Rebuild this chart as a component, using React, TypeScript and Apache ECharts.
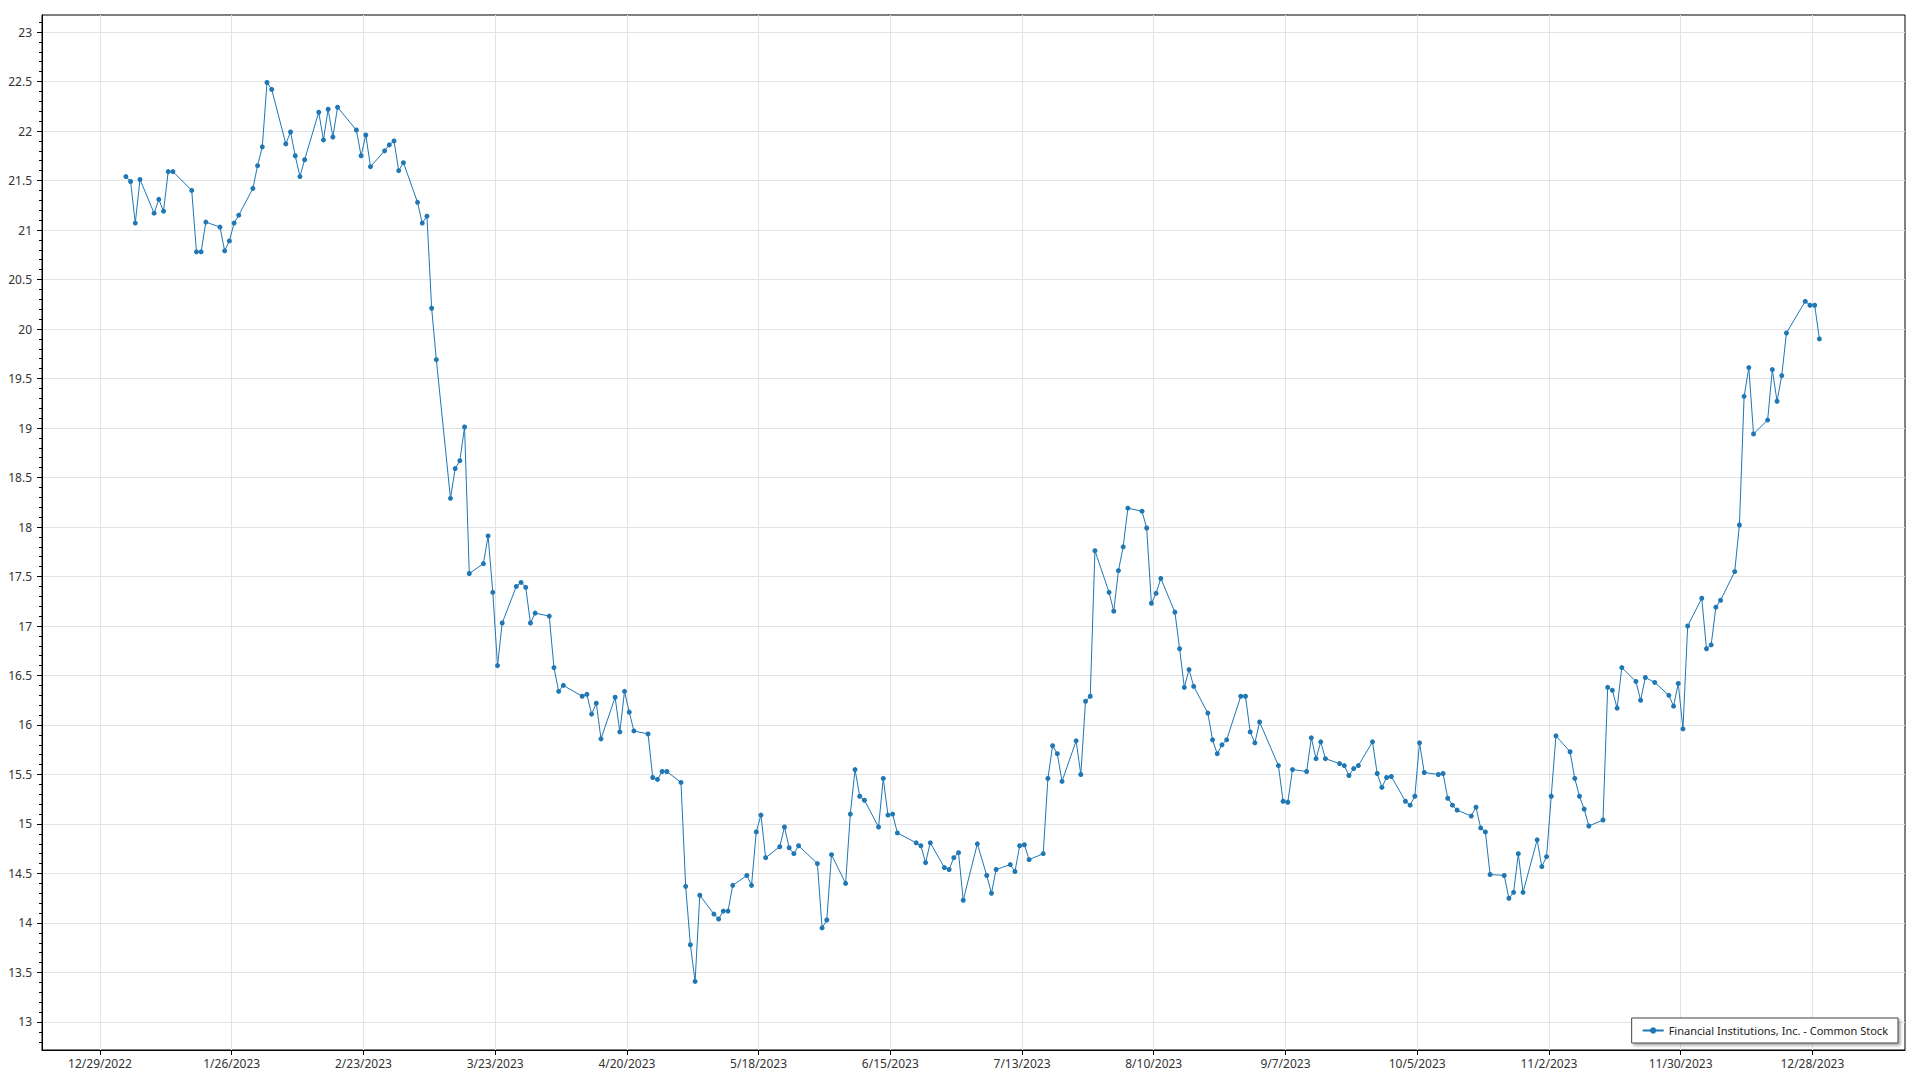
import React, { useEffect, useRef } from "react";
import * as echarts from "echarts";

const SERIES_NAME = "Financial Institutions, Inc. - Common Stock";
const YEAR = 2023;
// first labelled x tick (12/29/2022) and tick spacing in days
const ORIGIN = Date.UTC(2022, 11, 29);
const TICK_DAYS = 28;
const X_TICK_COUNT = 14;
const X_MIN_DAYS = -12.33;
const X_MAX_DAYS = 383.7;
const Y_MIN = 12.717;
const Y_MAX = 23.172;
const Y_STEP = 0.5;
const Y_FIRST_TICK = 13;
const Y_LAST_TICK = 23;
const SAMPLE_HOUR = 12; // closes are stamped at noon
const DAY = 86400000;
const FONT = '"Segoe UI", "Noto Sans", "Open Sans", sans-serif';

const dayJan = [3, 4, 5, 6, 9, 10, 11, 12, 13, 17, 18, 19, 20, 23, 24, 25, 26, 27, 30, 31];
const closeJan = [21.54, 21.49, 21.07, 21.51, 21.17, 21.31, 21.19, 21.59, 21.59, 21.4, 20.78, 20.78, 21.08, 21.03, 20.79, 20.89, 21.07, 21.15, 21.42, 21.65];
const dayFeb = [1, 2, 3, 6, 7, 8, 9, 10, 13, 14, 15, 16, 17, 21, 22, 23, 24, 27, 28];
const closeFeb = [21.84, 22.49, 22.42, 21.87, 21.99, 21.75, 21.54, 21.71, 22.19, 21.91, 22.22, 21.94, 22.24, 22.01, 21.75, 21.96, 21.64, 21.8, 21.86];
const dayMar = [1, 2, 3, 6, 7, 8, 9, 10, 13, 14, 15, 16, 17, 20, 21, 22, 23, 24, 27, 28, 29, 30, 31];
const closeMar = [21.9, 21.6, 21.68, 21.28, 21.07, 21.14, 20.21, 19.69, 18.29, 18.59, 18.67, 19.01, 17.53, 17.63, 17.91, 17.34, 16.6, 17.03, 17.4, 17.44, 17.39, 17.03, 17.13];
const dayApr = [3, 4, 5, 6, 10, 11, 12, 13, 14, 17, 18, 19, 20, 21, 24, 25, 26, 27, 28];
const closeApr = [17.1, 16.58, 16.34, 16.4, 16.29, 16.31, 16.11, 16.22, 15.86, 16.28, 15.93, 16.34, 16.13, 15.94, 15.91, 15.47, 15.45, 15.53, 15.53];
const dayMay = [1, 2, 3, 4, 5, 8, 9, 10, 11, 12, 15, 16, 17, 18, 19, 22, 23, 24, 25, 26, 30, 31];
const closeMay = [15.42, 14.37, 13.78, 13.41, 14.28, 14.09, 14.04, 14.12, 14.12, 14.38, 14.48, 14.38, 14.92, 15.09, 14.66, 14.77, 14.97, 14.76, 14.7, 14.78, 14.6, 13.95];
const dayJun = [1, 2, 5, 6, 7, 8, 9, 12, 13, 14, 15, 16, 20, 21, 22, 23, 26, 27, 28, 29, 30];
const closeJun = [14.03, 14.69, 14.4, 15.1, 15.55, 15.28, 15.24, 14.97, 15.46, 15.09, 15.1, 14.91, 14.81, 14.78, 14.61, 14.81, 14.56, 14.54, 14.66, 14.71, 14.23];
const dayJul = [3, 5, 6, 7, 10, 11, 12, 13, 14, 17, 18, 19, 20, 21, 24, 25, 26, 27, 28, 31];
const closeJul = [14.8, 14.48, 14.3, 14.54, 14.59, 14.52, 14.78, 14.79, 14.64, 14.7, 15.46, 15.79, 15.71, 15.43, 15.84, 15.5, 16.24, 16.29, 17.76, 17.34];
const dayAug = [1, 2, 3, 4, 7, 8, 9, 10, 11, 14, 15, 16, 17, 18, 21, 22, 23, 24, 25, 28, 29, 30, 31];
const closeAug = [17.15, 17.56, 17.8, 18.19, 18.16, 17.99, 17.23, 17.33, 17.48, 17.14, 16.77, 16.38, 16.56, 16.39, 16.12, 15.85, 15.71, 15.8, 15.85, 16.29, 16.29, 15.93, 15.82];
const daySep = [1, 5, 6, 7, 8, 11, 12, 13, 14, 15, 18, 19, 20, 21, 22, 25, 26, 27, 28, 29];
const closeSep = [16.03, 15.59, 15.23, 15.22, 15.55, 15.53, 15.87, 15.66, 15.83, 15.66, 15.61, 15.59, 15.49, 15.56, 15.59, 15.83, 15.51, 15.37, 15.47, 15.48];
const dayOct = [2, 3, 4, 5, 6, 9, 10, 11, 12, 13, 16, 17, 18, 19, 20, 23, 24, 25, 26, 27, 30, 31];
const closeOct = [15.23, 15.19, 15.28, 15.82, 15.52, 15.5, 15.51, 15.26, 15.19, 15.14, 15.08, 15.17, 14.96, 14.92, 14.49, 14.48, 14.25, 14.31, 14.7, 14.31, 14.84, 14.57];
const dayNov = [1, 2, 3, 6, 7, 8, 9, 10, 13, 14, 15, 16, 17, 20, 21, 22, 24, 27, 28, 29, 30];
const closeNov = [14.67, 15.28, 15.89, 15.73, 15.46, 15.28, 15.15, 14.98, 15.04, 16.38, 16.35, 16.17, 16.58, 16.44, 16.25, 16.48, 16.43, 16.3, 16.19, 16.42, 15.96];
const dayDec = [1, 4, 5, 6, 7, 8, 11, 12, 13, 14, 15, 18, 19, 20, 21, 22, 26, 27, 28, 29];
const closeDec = [17.0, 17.28, 16.77, 16.81, 17.19, 17.26, 17.55, 18.02, 19.32, 19.61, 18.94, 19.08, 19.59, 19.27, 19.53, 19.96, 20.28, 20.24, 20.24, 19.9];

const monthDays = [dayJan, dayFeb, dayMar, dayApr, dayMay, dayJun, dayJul, dayAug, daySep, dayOct, dayNov, dayDec];
const monthCloses = [closeJan, closeFeb, closeMar, closeApr, closeMay, closeJun, closeJul, closeAug, closeSep, closeOct, closeNov, closeDec];

function buildData(): [number, number][] {
  const out: [number, number][] = [];
  monthDays.forEach((days, m) => {
    days.forEach((d, i) => {
      const t = Date.UTC(YEAR, m, d, SAMPLE_HOUR);
      out.push([(t - ORIGIN) / DAY, monthCloses[m][i]]);
    });
  });
  return out;
}

function isMultiple(v: number, step: number) {
  const r = v / step;
  return Math.abs(r - Math.round(r)) < 1e-6;
}

function formatDateTick(v: number) {
  if (!isMultiple(v, TICK_DAYS)) return "";
  const dt = new Date(ORIGIN + v * DAY);
  return `${dt.getUTCMonth() + 1}/${dt.getUTCDate()}/${dt.getUTCFullYear()}`;
}

function formatValueTick(v: number) {
  if (!isMultiple(v, Y_STEP)) return "";
  return String(Math.round(v * 10) / 10);
}

const xTickValues: number[] = [];
for (let i = 0; i <= X_TICK_COUNT - 1; i++) xTickValues.push(i * TICK_DAYS);
const yTickValues: number[] = [];
for (let v = Y_FIRST_TICK; v <= Y_LAST_TICK + 1e-9; v += Y_STEP) yTickValues.push(Math.round(v * 10) / 10);

export default function App() {
  const ref = useRef<HTMLDivElement>(null);
  useEffect(() => {
    if (!ref.current) return;
    const chart = echarts.init(ref.current, null, { renderer: "svg" });
    chart.setOption({
      animation: false,
      backgroundColor: "#ffffff",
      textStyle: { fontFamily: FONT },
      grid: {
        left: 42,
        right: 15,
        top: 15,
        bottom: 30,
        show: true,
        borderColor: "#000000",
        borderWidth: 1,
        backgroundColor: "transparent",
        containLabel: false,
        outerBoundsMode: "none",
      },
      xAxis: {
        type: "value",
        min: X_MIN_DAYS,
        max: X_MAX_DAYS,
        minInterval: TICK_DAYS,
        maxInterval: TICK_DAYS,
        splitNumber: X_TICK_COUNT,
        axisLine: { show: true, onZero: false, lineStyle: { color: "#000000", width: 1 } },
        axisTick: { show: true, length: 5, customValues: xTickValues, lineStyle: { color: "#000000" } },
        minorTick: { show: false },
        minorSplitLine: { show: false },
        splitLine: { show: true, lineStyle: { color: "#e3e3e3", width: 1 } },
        axisLabel: {
          formatter: formatDateTick,
          color: "#333333",
          fontSize: 12,
          fontFamily: FONT,
          margin: 7,
        },
      },
      yAxis: {
        type: "value",
        min: Y_MIN,
        max: Y_MAX,
        minInterval: Y_STEP,
        maxInterval: Y_STEP,
        splitNumber: 20,
        axisLine: { show: true, onZero: false, lineStyle: { color: "#000000", width: 1 } },
        axisTick: { show: true, length: 5, customValues: yTickValues, lineStyle: { color: "#000000" } },
        minorTick: { show: true, splitNumber: 5, length: 3, lineStyle: { color: "#000000" } },
        minorSplitLine: { show: false },
        splitLine: { show: true, lineStyle: { color: "#e3e3e3", width: 1 } },
        axisLabel: {
          formatter: formatValueTick,
          color: "#333333",
          fontSize: 12,
          fontFamily: FONT,
          margin: 10,
        },
      },
      legend: {
        data: [SERIES_NAME],
        right: 22,
        bottom: 37,
        padding: [7, 10, 7, 10],
        backgroundColor: "#ffffff",
        borderColor: "#444444",
        borderWidth: 1,
        borderRadius: 0,
        shadowColor: "rgba(0,0,0,0.35)",
        shadowBlur: 3,
        shadowOffsetX: 2,
        shadowOffsetY: 2,
        itemWidth: 21,
        itemHeight: 8,
        selectedMode: false,
        textStyle: { fontSize: 11, color: "#222222", fontFamily: FONT },
      },
      series: [
        {
          type: "line",
          name: SERIES_NAME,
          data: buildData(),
          symbol: "circle",
          symbolSize: 5,
          showSymbol: true,
          showAllSymbol: true,
          itemStyle: { color: "#1f77b4" },
          lineStyle: { color: "#1f77b4", width: 1 },
          emphasis: { disabled: true },
        },
      ],
    });
    return () => chart.dispose();
  }, []);
  return (
    <div
      ref={ref}
      style={{ position: "fixed", left: 0, top: 0, width: 1920, height: 1080, background: "#fff" }}
    />
  );
}
